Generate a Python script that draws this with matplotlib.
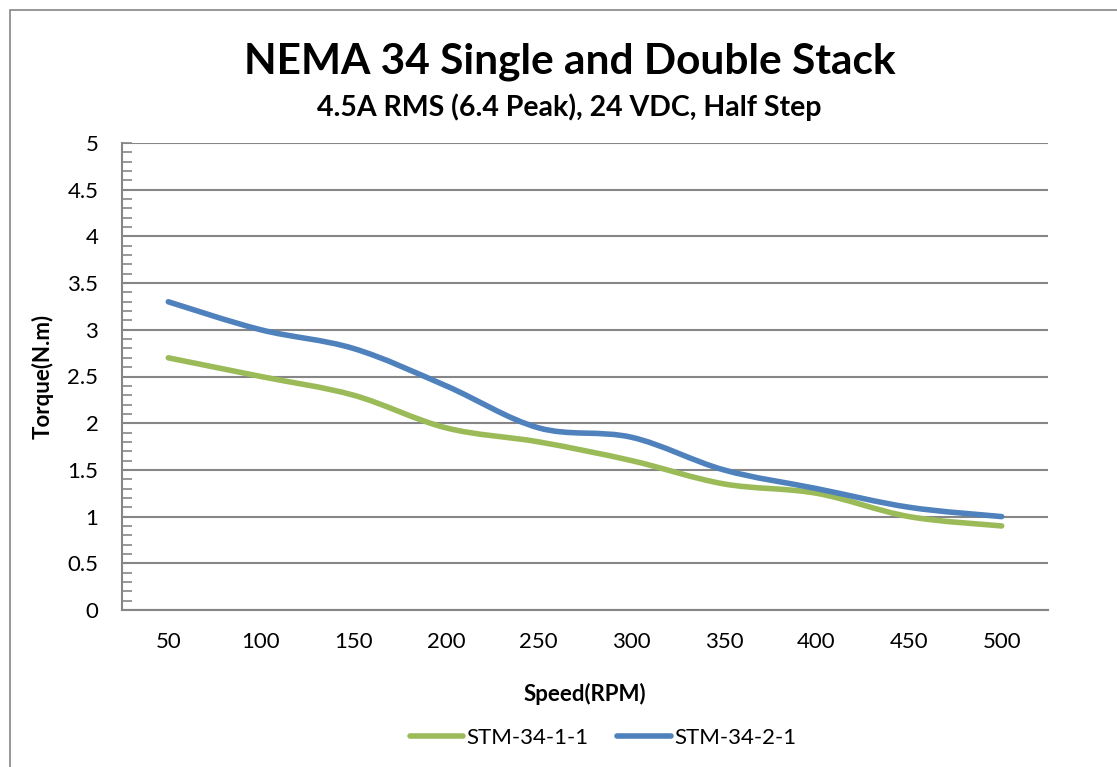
import matplotlib.pyplot as plt
from matplotlib.path import Path
from matplotlib.patches import PathPatch, Rectangle
from matplotlib.lines import Line2D
from matplotlib.ticker import MultipleLocator, FuncFormatter

speeds = ['50', '100', '150', '200', '250', '300', '350', '400', '450', '500']
stm_34_1_1 = [2.7, 2.5, 2.3, 1.95, 1.8, 1.6, 1.35, 1.25, 1.0, 0.9]
stm_34_2_1 = [3.3, 3.0, 2.8, 2.4, 1.95, 1.85, 1.5, 1.3, 1.1, 1.0]

GREEN = '#9bbb59'
BLUE = '#4f81bd'
GRAY = '#868686'

plt.rcParams['font.family'] = ['Lato', 'DejaVu Sans']

W, H = 1117, 767
fig = plt.figure(figsize=(W / 100, H / 100), dpi=100)

# chart border (only top/left visible, rest cropped)
fig.patches.append(Rectangle((10 / W, -0.1), 1.2, 1 - 10 / H + 0.1,
                             transform=fig.transFigure, fill=False,
                             edgecolor=GRAY, linewidth=1.2))

ax = fig.add_axes([122 / W, 1 - 610 / H, (1048 - 122) / W, (610 - 143) / H])


def smooth_path(xs, ys):
    # Excel-style smoothed line: cubic bezier through every point
    pts = list(zip(xs, ys))
    verts = [pts[0]]
    codes = [Path.MOVETO]
    n = len(pts)
    for i in range(n - 1):
        p0 = pts[i - 1] if i > 0 else pts[i]
        p1 = pts[i]
        p2 = pts[i + 1]
        p3 = pts[i + 2] if i + 2 < n else pts[i + 1]
        c1 = (p1[0] + (p2[0] - p0[0]) / 6, p1[1] + (p2[1] - p0[1]) / 6)
        c2 = (p2[0] - (p3[0] - p1[0]) / 6, p2[1] - (p3[1] - p1[1]) / 6)
        verts += [c1, c2, p2]
        codes += [Path.CURVE4] * 3
    return Path(verts, codes)


x = list(range(len(speeds)))
for vals, col in [(stm_34_1_1, GREEN), (stm_34_2_1, BLUE)]:
    ax.add_patch(PathPatch(smooth_path(x, vals), facecolor='none',
                           edgecolor=col, linewidth=4.0,
                           capstyle='round', joinstyle='round', zorder=3))

ax.set_xlim(-0.5, len(speeds) - 0.5)
ax.set_ylim(0, 5)
ax.set_xticks(x)
ax.set_xticklabels(speeds)
ax.yaxis.set_major_locator(MultipleLocator(0.5))
ax.yaxis.set_minor_locator(MultipleLocator(0.1))
ax.yaxis.set_major_formatter(FuncFormatter(lambda v, p: '%g' % round(v, 1)))
ax.grid(axis='y', which='major', color=GRAY, linewidth=1.5)
ax.set_axisbelow(True)

for s in ['top', 'right']:
    ax.spines[s].set_visible(False)
for s in ['left', 'bottom']:
    ax.spines[s].set_color(GRAY)
    ax.spines[s].set_linewidth(1.5)

ax.tick_params(axis='x', length=0, pad=16, labelsize=16)
ax.tick_params(axis='y', which='major', direction='in', length=7,
               color=GRAY, width=1.2, labelsize=16, pad=17)
ax.tick_params(axis='y', which='minor', direction='in', length=7,
               color=GRAY, width=1.2)

ax.set_xlabel('Speed(RPM)', fontsize=16, fontweight='bold', labelpad=22)
ax.set_ylabel('Torque(N.m)', fontsize=16, fontweight='bold', labelpad=10)

fig.text(570 / W, 1 - 62 / H, 'NEMA 34 Single and Double Stack',
         fontsize=30.5, fontweight='bold', ha='center', va='center')
fig.text(569 / W, 1 - 107 / H, '4.5A RMS (6.4 Peak), 24 VDC, Half Step',
         fontsize=20.5, fontweight='bold', ha='center', va='center')

handles = [Line2D([], [], color=GREEN, linewidth=4.0, solid_capstyle='round'),
           Line2D([], [], color=BLUE, linewidth=4.0, solid_capstyle='round')]
fig.legend(handles, ['STM-34-1-1', 'STM-34-2-1'], loc='center',
           bbox_to_anchor=(603 / W, 1 - 738 / H), ncol=2, frameon=False,
           fontsize=16, handlelength=2.4, handletextpad=0.15, columnspacing=1.3)

fig.savefig('out.png', dpi=100)
